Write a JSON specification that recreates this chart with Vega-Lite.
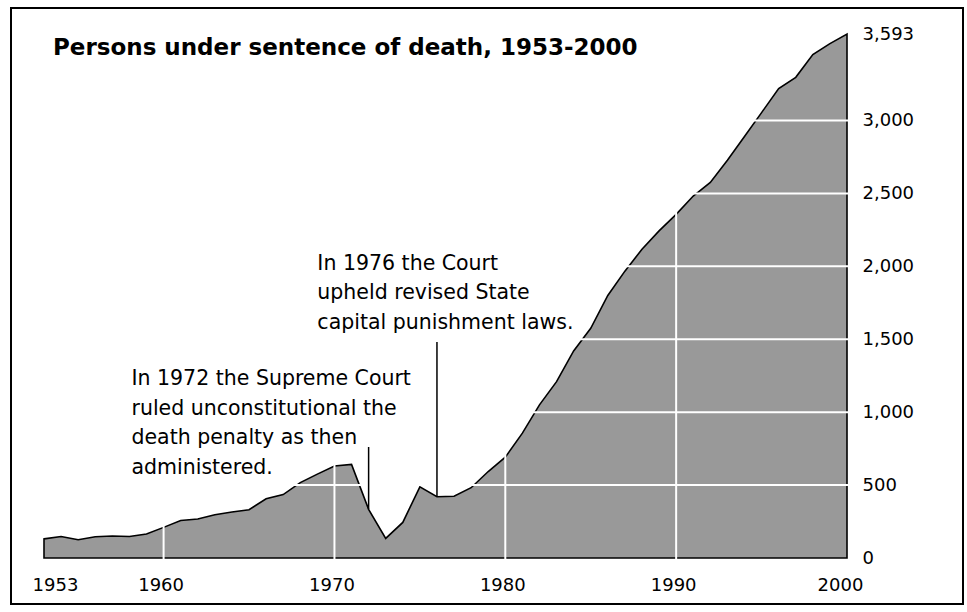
{
  "$schema": "https://vega.github.io/schema/vega-lite/v6.json",
  "width": 952,
  "height": 596,
  "autosize": {"type": "none"},
  "padding": {"left": 11, "top": 8, "right": 4, "bottom": 8},
  "background": "white",
  "config": {
    "view": {"stroke": "black", "strokeWidth": 2, "fill": "white"},
    "axis": {"grid": false, "domain": false, "ticks": false, "tickSize": 0, "labelFont": "DejaVu Sans", "labelFontSize": 18, "labelColor": "black"}
  },
  "title": {
    "text": "Persons under sentence of death, 1953-2000",
    "anchor": "start",
    "frame": "group",
    "offset": -70,
    "dx": 42,
    "baseline": "alphabetic",
    "font": "DejaVu Sans",
    "fontSize": 23,
    "fontWeight": "bold",
    "color": "black"
  },
  "datasets": {
    "deaths": [
      {"year": 1953, "count": 131}, {"year": 1954, "count": 147}, {"year": 1955, "count": 125},
      {"year": 1956, "count": 146}, {"year": 1957, "count": 151}, {"year": 1958, "count": 147},
      {"year": 1959, "count": 164}, {"year": 1960, "count": 210}, {"year": 1961, "count": 257},
      {"year": 1962, "count": 267}, {"year": 1963, "count": 297}, {"year": 1964, "count": 315},
      {"year": 1965, "count": 331}, {"year": 1966, "count": 406}, {"year": 1967, "count": 435},
      {"year": 1968, "count": 517}, {"year": 1969, "count": 575}, {"year": 1970, "count": 631},
      {"year": 1971, "count": 642}, {"year": 1972, "count": 334}, {"year": 1973, "count": 134},
      {"year": 1974, "count": 244}, {"year": 1975, "count": 488}, {"year": 1976, "count": 420},
      {"year": 1977, "count": 423}, {"year": 1978, "count": 482}, {"year": 1979, "count": 593},
      {"year": 1980, "count": 691}, {"year": 1981, "count": 856}, {"year": 1982, "count": 1050},
      {"year": 1983, "count": 1209}, {"year": 1984, "count": 1420}, {"year": 1985, "count": 1575},
      {"year": 1986, "count": 1800}, {"year": 1987, "count": 1967}, {"year": 1988, "count": 2117},
      {"year": 1989, "count": 2243}, {"year": 1990, "count": 2356}, {"year": 1991, "count": 2482},
      {"year": 1992, "count": 2575}, {"year": 1993, "count": 2727}, {"year": 1994, "count": 2890},
      {"year": 1995, "count": 3054}, {"year": 1996, "count": 3219}, {"year": 1997, "count": 3296},
      {"year": 1998, "count": 3452}, {"year": 1999, "count": 3527}, {"year": 2000, "count": 3593}
    ],
    "hgrid": [{"level": 500}, {"level": 1000}, {"level": 1500}, {"level": 2000}, {"level": 2500}, {"level": 3000}],
    "vgrid": [{"decade": 1960}, {"decade": 1970}, {"decade": 1980}, {"decade": 1990}],
    "one": [{}]
  },
  "layer": [
    {
      "data": {"name": "deaths"},
      "mark": {"type": "area", "fill": "#999999", "stroke": "black", "strokeWidth": 1.6, "interpolate": "linear"},
      "encoding": {
        "x": {
          "field": "year", "type": "quantitative", "title": null,
          "scale": {"domain": [1953, 2000], "range": [33, 836], "nice": false, "zero": false},
          "axis": {
            "orient": "bottom", "offset": -46, "values": [1953, 1960, 1970, 1980, 1990, 2000], "format": "d",
            "labelPadding": 18, "labelBaseline": "top", "labelFlush": false, "labelOverlap": false,
            "labelOffset": {"condition": [{"test": "datum.value == 1953", "value": 11}, {"test": "datum.value == 2000", "value": -7}], "value": -3}
          }
        },
        "y": {
          "field": "count", "type": "quantitative", "title": null,
          "scale": {"domain": [0, 3593], "range": [550, 26], "nice": false, "zero": true},
          "axis": {
            "orient": "right", "offset": -116, "values": [0, 500, 1000, 1500, 2000, 2500, 3000, 3593], "format": ",d",
            "labelPadding": 15, "labelAlign": "left", "labelBaseline": "middle", "labelOverlap": false
          }
        }
      }
    },
    {
      "data": {"name": "hgrid"},
      "mark": {"type": "rule", "color": "white", "strokeWidth": 2},
      "encoding": {
        "y": {"field": "level", "type": "quantitative"},
        "x": {"datum": 1953, "type": "quantitative"},
        "x2": {"datum": 2000.08}
      }
    },
    {
      "data": {"name": "vgrid"},
      "mark": {"type": "rule", "color": "white", "strokeWidth": 2},
      "encoding": {
        "x": {"field": "decade", "type": "quantitative"},
        "y": {"datum": -12, "type": "quantitative"},
        "y2": {"datum": 3593}
      }
    },
    {
      "data": {"name": "one"},
      "mark": {"type": "rule", "color": "black", "strokeWidth": 1.5},
      "encoding": {
        "x": {"datum": 1972, "type": "quantitative"},
        "y": {"datum": 761, "type": "quantitative"},
        "y2": {"datum": 334}
      }
    },
    {
      "data": {"name": "one"},
      "mark": {"type": "rule", "color": "black", "strokeWidth": 1.5},
      "encoding": {
        "x": {"datum": 1976, "type": "quantitative"},
        "y": {"datum": 1481, "type": "quantitative"},
        "y2": {"datum": 420}
      }
    },
    {
      "data": {"name": "one"},
      "mark": {
        "type": "text", "align": "left", "baseline": "alphabetic", "lineHeight": 29.5,
        "font": "DejaVu Sans", "fontSize": 20.5, "color": "black",
        "text": ["In 1972 the Supreme Court", "ruled unconstitutional the", "death penalty as then", "administered."]
      },
      "encoding": {
        "x": {"datum": 1958.12, "type": "quantitative"},
        "y": {"datum": 1186, "type": "quantitative"}
      }
    },
    {
      "data": {"name": "one"},
      "mark": {
        "type": "text", "align": "left", "baseline": "alphabetic", "lineHeight": 29.5,
        "font": "DejaVu Sans", "fontSize": 20.5, "color": "black",
        "text": ["In 1976 the Court", "upheld revised State", "capital punishment laws."]
      },
      "encoding": {
        "x": {"datum": 1969.0, "type": "quantitative"},
        "y": {"datum": 1975, "type": "quantitative"}
      }
    }
  ]
}
